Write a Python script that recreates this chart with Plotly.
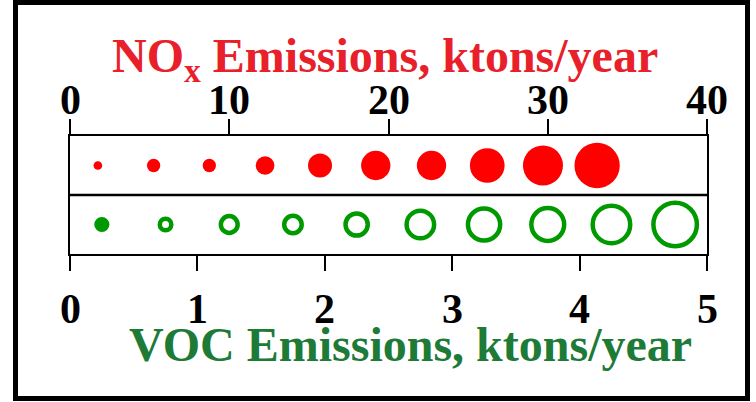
import plotly.graph_objects as go

# NOx row (top axis, ktons/year)
nox_x = [1.75, 5.25, 8.75, 12.25, 15.7, 19.2, 22.7, 26.2, 29.7, 33.1]
nox_size = [8.7, 13.3, 13.3, 18.7, 24, 29.3, 29.3, 34.7, 40, 45.3]

# VOC row (bottom axis, ktons/year)
voc_x = [0.25, 0.75, 1.25, 1.75, 2.25, 2.75, 3.25, 3.75, 4.25, 4.75]
voc_size = [10.7, 16, 21.3, 22, 26.7, 32, 36.7, 37.3, 42, 48]

nox_ticks = [0, 10, 20, 30, 40]
voc_ticks = [0, 1, 2, 3, 4, 5]

RED = "#ff0000"
GREEN = "#009900"
RED_T = "#e8202a"
GREEN_T = "#1d7a37"
FONT = "Liberation Serif, Times New Roman, serif"
RING = 4.5

fig = go.Figure()
fig.add_trace(go.Scatter(
    x=nox_x, y=[1.5] * len(nox_x), mode="markers", xaxis="x", yaxis="y",
    marker=dict(size=nox_size, color=RED, opacity=1, line=dict(width=0)),
    showlegend=False, hoverinfo="skip"))

sym = ["circle"] + ["circle-open"] * (len(voc_x) - 1)
sizes = [voc_size[0]] + [s - RING for s in voc_size[1:]]
fig.add_trace(go.Scatter(
    x=voc_x, y=[0.5] * len(voc_x), mode="markers", xaxis="x2", yaxis="y",
    marker=dict(size=sizes, color=GREEN, symbol=sym, opacity=1,
                line=dict(width=RING, color=GREEN)),
    showlegend=False, hoverinfo="skip"))

tickfont = dict(family=FONT, size=42, color="black", weight="bold")

# tick labels placed on the axes' own scales
tick_ann = []
for v in nox_ticks:
    tick_ann.append(dict(text=str(v), xref="x", yref="paper", x=v,
                         y=(254 - 99.5) / 118, xanchor="center",
                         yanchor="middle", showarrow=False, font=tickfont))
for v in voc_ticks:
    tick_ann.append(dict(text=str(v), xref="x2", yref="paper", x=v,
                         y=(254 - 308.5) / 118, xanchor="center",
                         yanchor="middle", showarrow=False, font=tickfont))

fig.update_layout(
    width=756, height=402,
    margin=dict(l=70, r=49, t=136, b=148),
    paper_bgcolor="white", plot_bgcolor="white",
    xaxis=dict(range=[0, 40], side="top", tickvals=nox_ticks,
               showticklabels=False,
               ticks="outside", ticklen=15, tickwidth=2, tickcolor="black",
               showline=True, linecolor="black", linewidth=2,
               showgrid=False, zeroline=False, fixedrange=True),
    xaxis2=dict(range=[0, 5], side="bottom", overlaying="x", anchor="y",
                tickvals=voc_ticks, showticklabels=False,
                ticks="outside", ticklen=15, tickwidth=2,
                tickcolor="black", showline=True, linecolor="black",
                linewidth=2, showgrid=False, zeroline=False,
                fixedrange=True),
    yaxis=dict(range=[0, 2], showline=True, mirror=True, linecolor="black",
               linewidth=2, showticklabels=False, ticks="", showgrid=False,
               zeroline=False, fixedrange=True),
    shapes=[
        dict(type="line", xref="paper", yref="y", x0=0, x1=1, y0=1, y1=1,
             line=dict(color="black", width=2.5)),
        dict(type="rect", xref="paper", yref="paper",
             x0=(15.5 - 70) / 637, x1=(747.5 - 70) / 637,
             y0=(254 - 398.5) / 118, y1=(254 - 2.5) / 118,
             line=dict(color="black", width=5)),
    ],
    annotations=tick_ann + [
        dict(text="NO<sub>x</sub> Emissions, ktons/year", xref="paper",
             yref="paper", x=(384.5 - 70) / 637, y=(254 - 59) / 118,
             xanchor="center", yanchor="middle", showarrow=False,
             font=dict(family=FONT, size=48, color=RED_T, weight="bold")),
        dict(text="VOC Emissions, ktons/year", xref="paper", yref="paper",
             x=(410.5 - 70) / 637, y=(254 - 344) / 118,
             xanchor="center", yanchor="middle", showarrow=False,
             font=dict(family=FONT, size=48, color=GREEN_T, weight="bold")),
    ],
)

fig.write_html("out.html", config={"displayModeBar": False},
               post_script="document.body.style.margin='0';"
                           "document.body.style.overflow='hidden';")
